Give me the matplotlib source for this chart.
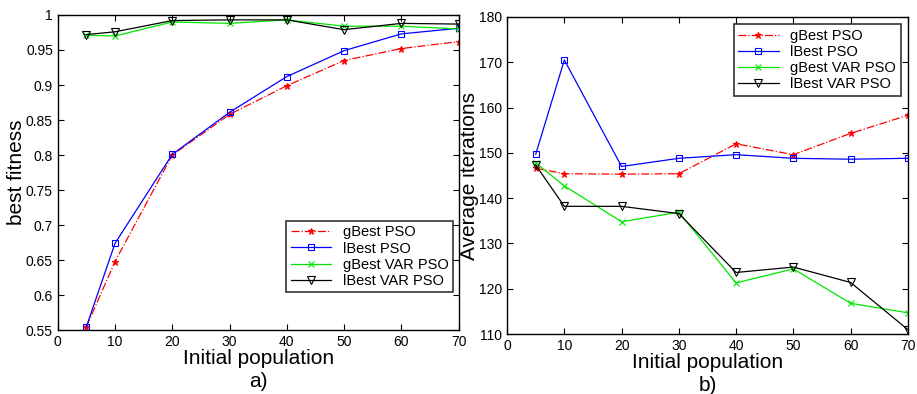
import matplotlib
matplotlib.use('Agg')
from matplotlib import pyplot as plt

plt.rcParams['font.family'] = ['Liberation Sans', 'DejaVu Sans']

# Datos
poblacion = [5, 10, 20, 30, 40, 50, 60, 70]
series = ['gBest PSO', 'lBest PSO', 'gBest VAR PSO', 'lBest VAR PSO']

fit_gbest = [0.555, 0.648, 0.800, 0.858, 0.899, 0.935, 0.952, 0.962]
fit_lbest = [0.555, 0.674, 0.801, 0.861, 0.912, 0.949, 0.973, 0.981]
fit_gbest_var = [0.971, 0.970, 0.990, 0.988, 0.993, 0.984, 0.984, 0.980]
fit_lbest_var = [0.972, 0.976, 0.992, 0.993, 0.993, 0.979, 0.988, 0.987]

it_gbest = [146.6, 145.4, 145.3, 145.4, 152.0, 149.6, 154.3, 158.3]
it_lbest = [149.7, 170.5, 147.0, 148.8, 149.6, 148.8, 148.6, 148.8]
it_gbest_var = [147.8, 142.7, 134.8, 136.9, 121.3, 124.4, 116.8, 114.7]
it_lbest_var = [147.3, 138.2, 138.2, 136.6, 123.6, 124.8, 121.4, 111.0]

estilos = [
    dict(color='red', linestyle='-.', marker='*', markersize=5),
    dict(color='blue', linestyle='-', marker='s', markersize=5, markerfacecolor='none'),
    dict(color='#00e600', linestyle='-', marker='x', markersize=4),
    dict(color='black', linestyle='-', marker='v', markersize=6, markerfacecolor='none'),
]

fig = plt.figure(figsize=(9.17, 3.94), dpi=100)
ax1 = fig.add_axes([0.063, 0.162, 0.437, 0.8])
ax2 = fig.add_axes([0.553, 0.152, 0.437, 0.805])


def dibujar(ax, datos, ylim, yticks, ylabel, letra, loc):
    for d, nombre, est in zip(datos, series, estilos):
        ax.plot(poblacion, d, label=nombre, linewidth=0.9, markeredgewidth=0.8, **est)
    ax.set_xlim(0, 70)
    ax.set_ylim(*ylim)
    ax.set_xticks(range(0, 71, 10))
    ax.set_yticks(yticks)
    ax.tick_params(direction='in', top=True, right=True, labelsize=10, length=4)
    ax.set_xlabel('Initial population\n' + letra, fontsize=15, labelpad=0, linespacing=1.25)
    ax.set_ylabel(ylabel, fontsize=15, labelpad=0)
    for s in ax.spines.values():
        s.set_linewidth(1.0)
    leg = ax.legend(loc=loc, fontsize=10.5, fancybox=False, edgecolor='black',
                    handlelength=2.8, borderpad=0.3, labelspacing=0.15)
    leg.get_frame().set_linewidth(1.2)


dibujar(ax1, [fit_gbest, fit_lbest, fit_gbest_var, fit_lbest_var], (0.55, 1),
        [0.55, 0.6, 0.65, 0.7, 0.75, 0.8, 0.85, 0.9, 0.95, 1], 'best fitness', 'a)',
        (0.57, 0.12))
ax1.set_yticklabels(['0.55', '0.6', '0.65', '0.7', '0.75', '0.8', '0.85', '0.9', '0.95', '1'])
dibujar(ax2, [it_gbest, it_lbest, it_gbest_var, it_lbest_var], (110, 180),
        range(110, 181, 10), 'Average iterations', 'b)', 'upper right')

fig.savefig('out.png', dpi=100)
